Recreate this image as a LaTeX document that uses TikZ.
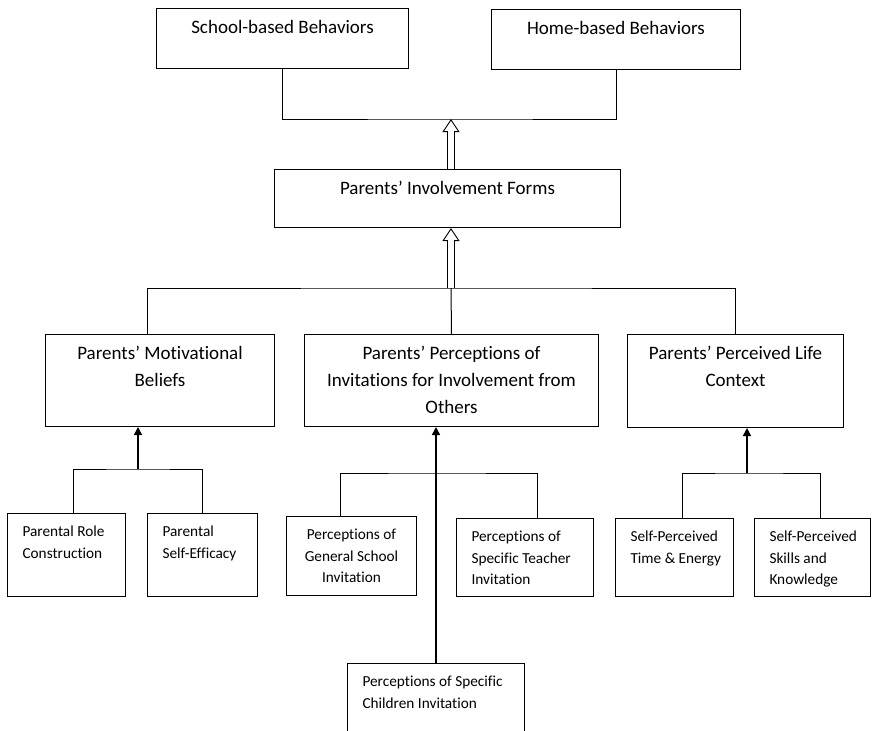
\documentclass[tikz,border=0pt]{standalone}
\usepackage{fontspec}
\setmainfont{Carlito}[Ligatures={TeX,NoCommon}]
\usepackage{tikz}
\usetikzlibrary{arrows.meta}

\newcommand{\bigfont}{\fontsize{19}{27}\selectfont}
\newcommand{\smallfont}{\fontsize{15.3}{21.5}\selectfont}
\newlength{\padtop}
% box text: width, height, text (centred or left)
\newcommand{\cellc}[3]{\parbox[c][#2pt][t]{#1pt}{\centering\vspace*{\padtop}\strut#3}}
\newcommand{\celll}[3]{\parbox[c][#2pt][t]{#1pt}{\raggedright\leftskip=15pt\vspace*{\padtop}\strut#3}}

\begin{document}
\begin{tikzpicture}[
  x=1pt, y=-1pt,
  bigbox/.style={draw, line width=1pt, inner sep=0pt, anchor=north west,
                 font={\bigfont\setlength{\padtop}{6pt}}},
  smallbox/.style={draw, line width=1pt, inner sep=0pt, anchor=north west,
                   font={\smallfont\setlength{\padtop}{8pt}}},
  ln/.style={line width=1pt},
  up/.style={line width=1.5pt, -{Triangle[length=8pt, width=8pt]}},
  hollowtip/.style={line width=0.9pt,
                 -{Triangle[open, fill=white, length=13pt, width=17pt]}},
  hollow/.style={double, double distance=6pt, line width=0.9pt, shorten >=11.5pt}
]
  \useasboundingbox (0,0) rectangle (873,731);

  % ---- forms ----
  \node[bigbox] (school) at (156,8)  {\cellc{252}{60}{School-based Behaviors}};
  \node[bigbox] (home)   at (491,9)  {\cellc{249}{60}{Home-based Behaviors}};
  \node[bigbox] (involv) at (274,169){\cellc{346}{58}{Parents’ Involvement Forms}};

  \coordinate (top) at (451,119);
  \draw[hollowtip] (top |- involv.north) -- (top);
  \draw[hollow] (top |- involv.north) -- (top);
  \draw[ln] (school.south) |- (top) -| (home.south);

  % ---- three sources ----
  \node[bigbox] (motiv)  at (45,334)  {\cellc{229}{92}{Parents’ Motivational\\Beliefs}};
  \node[bigbox] (percep) at (304,334) {\cellc{294}{92}{Parents’ Perceptions of\\Invitations for Involvement from\\Others}};
  \node[bigbox] (life)   at (627,334) {\cellc{216}{93}{Parents’ Perceived Life\\Context}};

  \coordinate (mid) at (451,288);
  \draw[hollowtip] (mid) -- (mid |- involv.south);
  \draw[hollow] (mid) -- (mid |- involv.south);
  \draw[ln] ([xshift=-13pt]motiv.north) |- (mid) -| (life.north);
  \draw[ln] (percep.north) -- (mid);

  % ---- motivational beliefs ----
  \node[smallbox] (role) at (7,513)   {\celll{118}{83}{Parental Role\\Construction}};
  \node[smallbox] (eff)  at (147,513) {\celll{110}{83}{Parental\\Self-Efficacy}};

  \coordinate (mjoin) at (138,469);
  \draw[ln] ([xshift=7pt]role.north) |- (mjoin) -| (eff.north);
  \draw[up] (mjoin) -- (mjoin |- motiv.south);

  % ---- invitations ----
  \node[smallbox] (gen)   at (286,516) {\cellc{130}{79}{Perceptions of\\General School\\Invitation}};
  \node[smallbox] (teach) at (456,518) {\celll{137}{78}{Perceptions of\\Specific Teacher\\Invitation}};
  \node[smallbox] (child) at (347,663) {\celll{177}{90}{Perceptions of Specific\\Children Invitation}};

  \coordinate (pjoin) at (435.5,473);
  \draw[ln] ([xshift=-11pt]gen.north) |- (pjoin) -| ([xshift=12pt]teach.north);
  \draw[up] (child.north) -- (child.north |- percep.south);

  % ---- life context ----
  \node[smallbox] (time)   at (615,518) {\celll{118}{78}{Self-Perceived\\Time \& Energy}};
  \node[smallbox] (skills) at (754,518) {\celll{116}{78}{Self-Perceived\\Skills and\\Knowledge}};

  \coordinate (ljoin) at (747,473);
  \draw[ln] ([xshift=8pt]time.north) |- (ljoin) -| ([xshift=8pt]skills.north);
  \draw[up] (ljoin) -- (ljoin |- life.south);
\end{tikzpicture}
\end{document}
